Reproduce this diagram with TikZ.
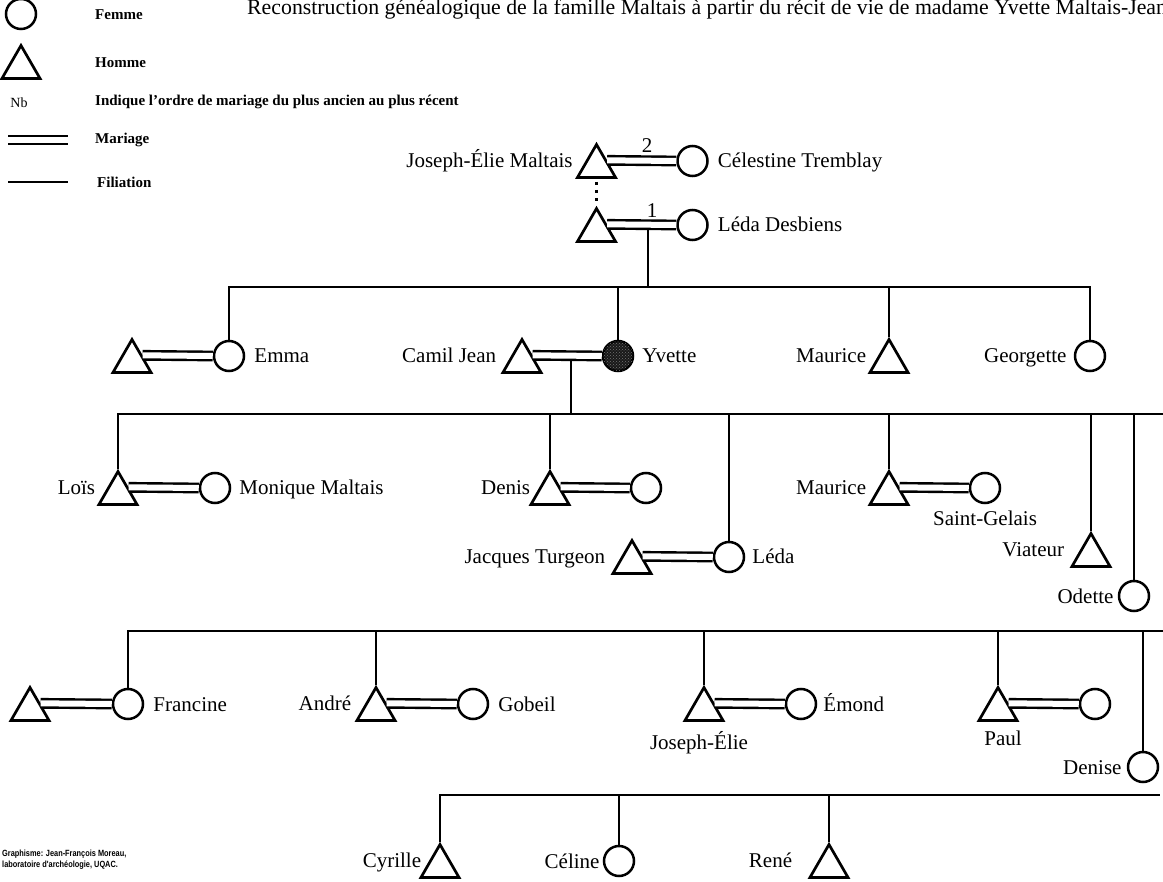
\documentclass[tikz,border=0pt]{standalone}
\usepackage{fontspec}
\setmainfont{Liberation Serif}
\newfontfamily\creditfont[FakeStretch=0.82]{Liberation Sans}
\usetikzlibrary{shapes.geometric,calc,patterns}
\begin{document}
\begin{tikzpicture}[x=1pt,y=-1pt,
  homme/.style={draw,regular polygon,regular polygon sides=3,minimum size=44pt,inner sep=0pt,line width=2.7pt,yshift=-5.5pt},
  femme/.style={draw,circle,minimum size=30pt,inner sep=0pt,line width=2.5pt},
  ego/.style={femme,fill=black!90,postaction={pattern=crosshatch dots,pattern color=white!45!black}},
  mariage/.style={double,double distance=6pt,line width=2.4pt},
  filiation/.style={line width=2.4pt},
  lien/.style={line width=2.6pt,dash pattern=on 3pt off 5pt,shorten <=3pt,shorten >=3pt},
  nom/.style={font=\fontsize{21}{24}\selectfont,inner sep=0pt},
  gauche/.style={nom,anchor=base east},
  droite/.style={nom,anchor=base west},
  dessous/.style={nom,anchor=base},
  legende/.style={font=\bfseries\fontsize{15}{17}\selectfont,inner sep=0pt,anchor=west},
]
\useasboundingbox (0,0) rectangle (1163,882);

% title, cropped by the page edges
\node[anchor=base west,font=\fontsize{21.8}{24}\selectfont,inner sep=0pt] (titre) at (247,14.5)
  {Reconstruction généalogique de la famille Maltais à partir du récit de vie de madame Yvette Maltais-Jean};

% legend
\node[femme] (lf) at (21,14) {};
\node[legende] (lft) at (95,15) {Femme};
\node[homme] (lh) at (21,62) {};
\node[legende] (lht) at (95,63) {Homme};
\node[font=\fontsize{14}{16}\selectfont,inner sep=0pt] (lnb) at (19,103) {Nb};
\node[legende] (lnbt) at (95,102) {Indique l'ordre de mariage du plus ancien au plus récent};
\coordinate (lm1) at (8,140);
\coordinate (lm2) at (68,140);
\draw[mariage] (lm1) -- (lm2);
\node[legende] (lmt) at (95,140) {Mariage};
\coordinate (lf1) at (8,182);
\coordinate (lf2) at (68,182);
\draw[filiation] (lf1) -- (lf2);
\node[legende] (lfit) at (97,182) {Filiation};

% first generation
\node[homme] (jem) at (596.5,161) {};
\node[femme] (cel) at (692.5,161) {};
\draw[mariage] (jem.side 3) -- (cel.west);
\node[nom] (n2) at (647,146) {2};
\node[gauche] (jemL) at ($(jem.side 1)+(-13,7)$) {Joseph-Élie Maltais};
\node[droite] (celL) at ($(cel.east)+(9,7)$) {Célestine Tremblay};

\node[homme] (jem2) at (596.5,225) {};
\node[femme] (led) at (692.5,225) {};
\draw[mariage] (jem2.side 3) -- (led.west);
\node[nom] (n1) at (652,211) {1};
\node[droite] (ledL) at ($(led.east)+(9,7)$) {Léda Desbiens};
\draw[lien] (jem.side 2) -- (jem2.corner 1);

\coordinate (d1) at (648,229);
\coordinate (g2) at (648,287);
\draw[filiation] (d1) -- (g2);

% second generation
\node[homme] (emH) at (132,356) {};
\node[femme] (emm) at (229,356) {};
\draw[mariage] (emH.side 3) -- (emm.west);
\node[droite] (emmL) at ($(emm.east)+(9,7)$) {Emma};

\node[homme] (cam) at (522,356) {};
\node[ego] (yve) at (618,356) {};
\draw[mariage] (cam.side 3) -- (yve.west);
\node[gauche] (camL) at ($(cam.side 1)+(-15,7)$) {Camil Jean};
\node[droite] (yveL) at ($(yve.east)+(8,7)$) {Yvette};

\node[homme] (mau) at (889,356) {};
\node[gauche] (mauL) at ($(mau.side 1)+(-12,7)$) {Maurice};
\node[femme] (geo) at (1090,356) {};
\node[gauche] (geoL) at ($(geo.west)+(-7,7)$) {Georgette};

\draw[filiation] (emm.north) -- (emm.north |- g2) -- (geo.north |- g2) -- (geo.north);
\draw[filiation] (yve.north) -- (yve.north |- g2);
\draw[filiation] (mau.corner 1) -- (mau.corner 1 |- g2);

\coordinate (d2) at (571,360);
\coordinate (g3) at (571,414);
\draw[filiation] (d2) -- (g3);

% third generation
\node[homme] (loi) at (118,488) {};
\node[femme] (mon) at (215,488) {};
\draw[mariage] (loi.side 3) -- (mon.west);
\node[gauche] (loiL) at ($(loi.side 1)+(-12,7)$) {Loïs};
\node[droite] (monL) at ($(mon.east)+(8,7)$) {Monique Maltais};

\node[homme] (den) at (550,488) {};
\node[femme] (denF) at (646,488) {};
\draw[mariage] (den.side 3) -- (denF.west);
\node[gauche] (denL) at ($(den.side 1)+(-9,7)$) {Denis};

\node[homme] (jac) at (632,557) {};
\node[femme] (lea) at (729,557) {};
\draw[mariage] (jac.side 3) -- (lea.west);
\node[gauche] (jacL) at ($(jac.side 1)+(-16,7)$) {Jacques Turgeon};
\node[droite] (leaL) at ($(lea.east)+(7,7)$) {Léda};

\node[homme] (mau2) at (889,488) {};
\node[femme] (sgF) at (985,488) {};
\draw[mariage] (mau2.side 3) -- (sgF.west);
\node[gauche] (mau2L) at ($(mau2.side 1)+(-12,7)$) {Maurice};
\node[dessous] (sgL) at ($(sgF.south)+(0,21)$) {Saint-Gelais};

\node[homme] (via) at (1091,550) {};
\node[gauche] (viaL) at ($(via.side 1)+(-16,7)$) {Viateur};
\node[femme] (ode) at (1134,596) {};
\node[gauche] (odeL) at ($(ode.west)+(-4,7)$) {Odette};

\coordinate (e3) at (1163,414);
\draw[filiation] (loi.corner 1) -- (loi.corner 1 |- g3) -- (e3);
\draw[filiation] (den.corner 1) -- (den.corner 1 |- g3);
\draw[filiation] (lea.north) -- (lea.north |- g3);
\draw[filiation] (mau2.corner 1) -- (mau2.corner 1 |- g3);
\draw[filiation] (via.corner 1) -- (via.corner 1 |- g3);
\draw[filiation] (ode.north) -- (ode.north |- g3);

% fourth generation
\node[homme] (frH) at (30,704) {};
\node[femme] (fra) at (128,704) {};
\draw[mariage] (frH.side 3) -- (fra.west);
\node[droite] (fraL) at ($(fra.east)+(9,7)$) {Francine};

\node[homme] (andr) at (376,704) {};
\node[femme] (gob) at (473,704) {};
\draw[mariage] (andr.side 3) -- (gob.west);
\node[gauche] (andrL) at ($(andr.side 1)+(-14,7)$) {André};
\node[droite] (gobL) at ($(gob.east)+(9,7)$) {Gobeil};

\node[homme] (jel) at (704,704) {};
\node[femme] (emo) at (801,704) {};
\draw[mariage] (jel.side 3) -- (emo.west);
\node[droite] (emoL) at ($(emo.east)+(6,7)$) {Émond};
\node[dessous] (jelL) at ($(jel.side 2)+(-5,28)$) {Joseph-Élie};

\node[homme] (pau) at (998,704) {};
\node[femme] (pauF) at (1095,704) {};
\draw[mariage] (pau.side 3) -- (pauF.west);
\node[dessous] (pauL) at ($(pau.side 2)+(5,24)$) {Paul};

\node[femme] (dse) at (1143,767) {};
\node[gauche] (dseL) at ($(dse.west)+(-5,7)$) {Denise};

\coordinate (e4) at (1163,631);
\draw[filiation] (fra.north) -- (fra.north |- e4) -- (e4);
\draw[filiation] (andr.corner 1) -- (andr.corner 1 |- e4);
\draw[filiation] (jel.corner 1) -- (jel.corner 1 |- e4);
\draw[filiation] (pau.corner 1) -- (pau.corner 1 |- e4);
\draw[filiation] (dse.north) -- (dse.north |- e4);

% fifth generation
\node[homme] (cyr) at (440,861) {};
\node[gauche] (cyrL) at ($(cyr.side 1)+(-8,7)$) {Cyrille};
\node[femme] (cln) at (619,861) {};
\node[gauche] (clnL) at ($(cln.west)+(-3,7)$) {Céline};
\node[homme] (ren) at (829,861) {};
\node[gauche] (renL) at ($(ren.side 1)+(-26,7)$) {René};

\coordinate (e5) at (1160,795);
\draw[filiation] (cyr.corner 1) -- (cyr.corner 1 |- e5) -- (e5);
\draw[filiation] (cln.north) -- (cln.north |- e5);
\draw[filiation] (ren.corner 1) -- (ren.corner 1 |- e5);

% credits
\node[anchor=north west,align=left,inner sep=0pt,font=\creditfont\bfseries\fontsize{9}{11}\selectfont] (credit) at (2,850)
  {Graphisme: Jean-François Moreau,\\laboratoire d'archéologie, UQAC.};
\end{tikzpicture}
\end{document}
